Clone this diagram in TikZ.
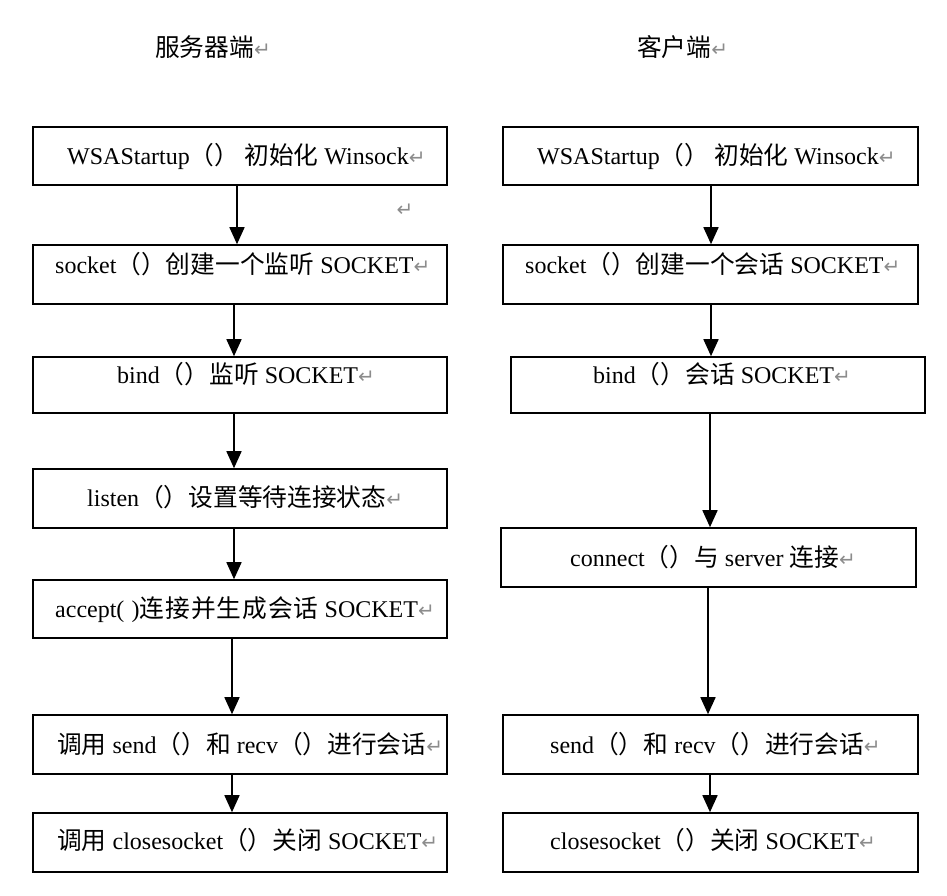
\documentclass[tikz,border=0pt]{standalone}
\usepackage{fontspec}
\setmainfont{Liberation Serif}
\newfontfamily\cjk{Noto Sans CJK SC}[Scale=1.03]
\newfontfamily\symfont{DejaVu Sans}
\usetikzlibrary{arrows.meta}
\newcommand\zh[1]{{\cjk #1}}
\newcommand\pr{\zh{（）}}
\newcommand\ret{{\symfont\fontsize{20}{20}\selectfont\color{black!45}↵}}
\tikzset{
  box/.style={draw=black, line width=1.6pt, rectangle, inner sep=0pt},
  lbox/.style={box, minimum width=414pt, minimum height=59pt},
  txt/.style={anchor=base west, inner sep=0pt, font=\fontsize{24}{28}\selectfont},
  arr/.style={line width=1.6pt, -{Triangle[length=17pt,width=15pt]}},
}
\begin{document}
\begin{tikzpicture}[x=1pt,y=-1pt]
\useasboundingbox (0,0) rectangle (947,895);
% headers
\node[txt] (h1) at (155,56) {\zh{服务器端}\ret};
\node[txt] (h2) at (637,56) {\zh{客户端}\ret};
\node[inner sep=0pt] (stray) at (405,210) {\ret};
% server boxes
\node[lbox, minimum height=58pt] (L1) at (240,156) {};
\node[lbox] (L2) at (240,274.5) {};
\node[lbox, minimum height=56pt] (L3) at (240,385) {};
\node[lbox] (L4) at (240,498.5) {};
\node[lbox, minimum height=58pt] (L5) at (240,609) {};
\node[lbox] (L6) at (240,744.5) {};
\node[lbox] (L7) at (240,842.5) {};
% client boxes
\node[lbox, minimum width=415pt, minimum height=58pt] (R1) at (710.5,156) {};
\node[lbox, minimum width=415pt] (R2) at (710.5,274.5) {};
\node[lbox, minimum height=56pt] (R3) at (718,385) {};
\node[lbox, minimum width=415pt] (R4) at (708.5,557.5) {};
\node[lbox, minimum width=415pt] (R5) at (710.5,744.5) {};
\node[lbox, minimum width=415pt] (R6) at (710.5,842.5) {};
% server texts
\node[txt] (tL1) at (67,164) {WSAStartup\pr\hspace{5pt}\zh{初始化} Winsock\ret};
\node[txt] (tL2) at (55,273) {socket\pr\zh{创建一个监听} SOCKET\ret};
\node[txt] (tL3) at (117,383) {bind\pr\zh{监听} SOCKET\ret};
\node[txt] (tL4) at (87,506) {listen\pr\zh{设置等待连接状态}\ret};
\node[txt] (tL5) at (55,617) {accept(\hspace{0.3em})\zh{连\kern1pt 接\kern1pt 并\kern1pt 生\kern1pt 成\kern1pt 会\kern1pt 话} SOCKET\ret};
\node[txt] (tL6) at (57,753) {\zh{调用} send\pr\zh{和} recv\pr\zh{进行会话}\ret};
\node[txt] (tL7) at (57,849) {\zh{调用} closesocket\pr\zh{关闭} SOCKET\ret};
% client texts
\node[txt] (tR1) at (537,164) {WSAStartup\pr\hspace{5pt}\zh{初始化} Winsock\ret};
\node[txt] (tR2) at (525,273) {socket\pr\zh{创建一个会话} SOCKET\ret};
\node[txt] (tR3) at (593,383) {bind\pr\zh{会话} SOCKET\ret};
\node[txt] (tR4) at (570,566) {connect\pr\zh{与} server \zh{连接}\ret};
\node[txt] (tR5) at (550,753) {send\pr\zh{和} recv\pr\zh{进行会话}\ret};
\node[txt] (tR6) at (550,849) {closesocket\pr\zh{关闭} SOCKET\ret};
% server arrows
\draw[arr] ([xshift=-3pt]L1.south) -- ([xshift=-3pt]L2.north);
\draw[arr] ([xshift=-6pt]L2.south) -- ([xshift=-6pt]L3.north);
\draw[arr] ([xshift=-6pt]L3.south) -- ([xshift=-6pt]L4.north);
\draw[arr] ([xshift=-6pt]L4.south) -- ([xshift=-6pt]L5.north);
\draw[arr] ([xshift=-8pt]L5.south) -- ([xshift=-8pt]L6.north);
\draw[arr] ([xshift=-8pt]L6.south) -- ([xshift=-8pt]L7.north);
% client arrows
\draw[arr] ([xshift=0.5pt]R1.south) -- ([xshift=0.5pt]R2.north);
\draw[arr] ([xshift=0.5pt]R2.south) -- ([xshift=-7pt]R3.north);
\draw[arr] ([xshift=-8pt]R3.south) -- ([xshift=1.5pt]R4.north);
\draw[arr] ([xshift=-0.5pt]R4.south) -- ([xshift=-2.5pt]R5.north);
\draw[arr] ([xshift=-0.5pt]R5.south) -- ([xshift=-0.5pt]R6.north);
\end{tikzpicture}
\end{document}
